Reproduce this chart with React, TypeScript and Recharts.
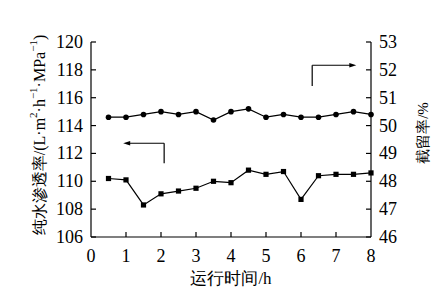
import React from 'react';
import { ComposedChart, Line, XAxis, YAxis, ReferenceLine } from 'recharts';

const times = [0.5, 1, 1.5, 2, 2.5, 3, 3.5, 4, 4.5, 5, 5.5, 6, 6.5, 7, 7.5, 8];
const permeability = [110.2, 110.1, 108.3, 109.1, 109.3, 109.5, 110.0, 109.9, 110.8, 110.5, 110.7, 108.7, 110.4, 110.5, 110.5, 110.6];
const retention = [50.3, 50.3, 50.4, 50.5, 50.4, 50.5, 50.2, 50.5, 50.6, 50.3, 50.4, 50.3, 50.3, 50.4, 50.5, 50.4];

const xTicks = [0, 1, 2, 3, 4, 5, 6, 7, 8];
const leftTicks = [106, 108, 110, 112, 114, 116, 118, 120];
const rightTicks = [46, 47, 48, 49, 50, 51, 52, 53];

const data = times.map((t, i) => ({ t, p: permeability[i], r: retention[i] }));

const FONT = 'Liberation Serif';
const fs = (size: number) => ({ fontFamily: FONT, fontSize: size });
const TM = 8;

const LeftTick = (props: any) => {
  const { x, y, payload } = props;
  const ax = x + TM;
  return (
    <g>
      <line x1={ax} x2={ax + 5} y1={y} y2={y} stroke="#000" strokeWidth={1.2} />
      <text x={x} y={y} textAnchor="end" dominantBaseline="central" style={fs(18)} fill="#000">{payload.value}</text>
    </g>
  );
};
const RightTick = (props: any) => {
  const { x, y, payload } = props;
  const ax = x - TM;
  return (
    <g>
      <line x1={ax} x2={ax - 5} y1={y} y2={y} stroke="#000" strokeWidth={1.2} />
      <text x={x} y={y} textAnchor="start" dominantBaseline="central" style={fs(18)} fill="#000">{payload.value}</text>
    </g>
  );
};
const XM = 12;
const BottomTick = (props: any) => {
  const { x, y, payload } = props;
  const ay = y - XM;
  return (
    <g>
      {payload.value !== 0 && payload.value !== 8 ? (
        <line x1={x} x2={x} y1={ay} y2={ay - 5} stroke="#000" strokeWidth={1.2} />
      ) : null}
      <text x={x} y={y} textAnchor="middle" dy="0.72em" style={fs(18)} fill="#000">{payload.value}</text>
    </g>
  );
};

const Square = (props: any) => {
  const { cx, cy } = props;
  if (cx == null || cy == null) return null;
  return <rect x={cx - 2.6} y={cy - 2.6} width={5.2} height={5.2} fill="#000" />;
};
const Circle = (props: any) => {
  const { cx, cy } = props;
  if (cx == null || cy == null) return null;
  return <circle cx={cx} cy={cy} r={2.8} fill="#000" />;
};

const arrowShape = (withHead: boolean) => (props: any) => {
  const { x1, y1, x2, y2 } = props;
  if ([x1, y1, x2, y2].some((v) => v == null || isNaN(v))) return null;
  let head = null;
  if (withHead) {
    const dir = x2 > x1 ? 1 : -1;
    const L = 7;
    const W = 2.2;
    head = <polygon points={`${x2},${y2} ${x2 - dir * L},${y2 - W} ${x2 - dir * L},${y2 + W}`} fill="#000" />;
  }
  return (
    <g>
      <line x1={x1} y1={y1} x2={withHead ? x2 - (x2 > x1 ? 4 : -4) : x2} y2={y2} stroke="#000" strokeWidth={1.2} />
      {head}
    </g>
  );
};

// annotation arrows in data coordinates (left axis)
const leftArrowX = 2.09;
const leftArrowTipX = 0.92;
const leftArrowTopY = 112.73;
const leftArrowBottomY = 111.3;
const rightArrowX = 6.32;
const rightArrowTipX = 7.58;
const rightArrowTopY = 118.33;
const rightArrowBottomY = 116.84;

export default function App() {
  return (
    <ComposedChart width={436} height={285} data={data} margin={{ top: 34, right: 0, bottom: 0, left: 0 }}>
      <XAxis
        dataKey="t"
        type="number"
        domain={[0, 8]}
        ticks={xTicks}
        tickSize={0}
        tickMargin={XM}
        tick={<BottomTick />}
        axisLine={{ stroke: '#000', strokeWidth: 1.2 }}
        height={56}
        interval={0}
        label={{
          content: (p: any) => {
            const vb = p.viewBox;
            return (
              <text x={vb.x + vb.width / 2} y={vb.y + 41} textAnchor="middle" dominantBaseline="central" style={fs(17)} fill="#000">运行时间/h</text>
            );
          },
        }}
      />
      <YAxis
        yAxisId="left"
        orientation="left"
        domain={[106, 120]}
        ticks={leftTicks}
        width={83}
        tickSize={0}
        tickMargin={TM}
        tick={<LeftTick />}
        axisLine={{ stroke: '#000', strokeWidth: 1.2 }}
        interval={0}
        label={{
          content: () => (
            <text transform="translate(31,127) rotate(-90)" textAnchor="middle" dominantBaseline="central" style={fs(16)} fill="#000">
              纯水渗透率/(L·m<tspan fontSize={11} dy={-6}>2</tspan><tspan dy={6}>·h</tspan><tspan fontSize={11} dy={-6}>−1</tspan><tspan dy={6}>·MPa</tspan><tspan fontSize={11} dy={-6}>−1</tspan><tspan dy={6}>)</tspan>
            </text>
          ),
        }}
      />
      <YAxis
        yAxisId="right"
        orientation="right"
        domain={[46, 53]}
        ticks={rightTicks}
        width={73}
        tickSize={0}
        tickMargin={TM}
        tick={<RightTick />}
        axisLine={{ stroke: '#000', strokeWidth: 1.2 }}
        interval={0}
        label={{
          content: () => (
            <text transform="translate(415,125) rotate(-90)" textAnchor="middle" dominantBaseline="central" style={fs(15)} fill="#000">截留率/%</text>
          ),
        }}
      />
      <Line yAxisId="left" dataKey="p" stroke="#000" strokeWidth={1.2} dot={<Square />} isAnimationActive={false} />
      <Line yAxisId="right" dataKey="r" stroke="#000" strokeWidth={1.2} dot={<Circle />} isAnimationActive={false} />
      <ReferenceLine yAxisId="left" segment={[{ x: leftArrowX, y: leftArrowBottomY }, { x: leftArrowX, y: leftArrowTopY }]} shape={arrowShape(false)} />
      <ReferenceLine yAxisId="left" segment={[{ x: leftArrowX, y: leftArrowTopY }, { x: leftArrowTipX, y: leftArrowTopY }]} shape={arrowShape(true)} />
      <ReferenceLine yAxisId="left" segment={[{ x: rightArrowX, y: rightArrowBottomY }, { x: rightArrowX, y: rightArrowTopY }]} shape={arrowShape(false)} />
      <ReferenceLine yAxisId="left" segment={[{ x: rightArrowX, y: rightArrowTopY }, { x: rightArrowTipX, y: rightArrowTopY }]} shape={arrowShape(true)} />
    </ComposedChart>
  );
}
